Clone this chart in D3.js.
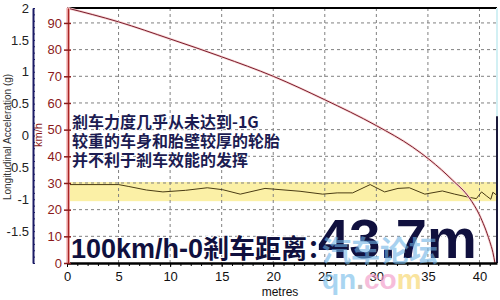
<!DOCTYPE html>
<html>
<head>
<meta charset="utf-8">
<script src="https://cdn.jsdelivr.net/npm/d3@7"></script>
<style>
  body { margin: 0; background: #fff; }
  svg { display: block; font-family: "Liberation Sans", Arial, "Noto Sans CJK SC", sans-serif; }
</style>
</head>
<body>
<div id="chart"></div>
<script>
// distance ticks (metres)
const distTicks = [0, 5, 10, 15, 20, 25, 30, 35, 40];
const speedTicks = [0, 10, 20, 30, 40, 50, 60, 70, 80, 90];
const accelTicks = [2, 1.5, 1, 0.5, 0, -0.5, -1, -1.5];

// speed curve (km/h vs metres)
const speedDist = [0, 5, 10, 15, 20, 25, 30, 33.5, 35.2, 37.4, 39, 40, 41, 41.3, 41.5];
const speedVal  = [95.6, 90.4, 84, 77.3, 70, 61.2, 51.5, 43.5, 38.6, 31, 24.5, 18, 8, 4, 0];

// longitudinal acceleration (g)
const accelDist = [0, 5, 6, 7.7, 9.3, 11.5, 13.6, 15.1, 16.8, 19.2, 22.6, 24.8, 26.2, 27.7, 29.4, 30.8, 32.1, 33.2, 34.7, 36.4, 37.6, 39, 39.7, 40.2, 40.7, 41.1, 41.3, 41.7];
const accelVal  = [-0.77, -0.77, -0.8, -0.855, -0.885, -0.86, -0.82, -0.85, -0.92, -0.83, -0.875, -0.92, -0.9, -0.9, -0.77, -0.885, -0.83, -0.82, -0.92, -0.87, -0.92, -0.97, -0.99, -0.885, -0.95, -1.0, -0.89, -0.94];

// highlighted acceleration band
const bandRange = [-0.73, -1.03];

const notes = ["剎车力度几乎从未达到-1G", "较重的车身和胎壁较厚的轮胎", "并不利于剎车效能的发挥"];

const W = 500, H = 300;
const svg = d3.select('#chart').append('svg')
  .attr('width', W)
  .attr('height', H);

const x = d3.scaleLinear().domain([0, 41.7]).range([67, 497]);
const ySpeed = d3.scaleLinear().domain([0, 95.6]).range([263, 8]);
const yAcc = d3.scaleLinear().domain([-2, 2]).range([263, 8]);

// yellow band
svg.append('rect')
  .attr('x', x(0))
  .attr('y', yAcc(bandRange[0]))
  .attr('width', x(41.7) - x(0))
  .attr('height', yAcc(bandRange[1]) - yAcc(bandRange[0]))
  .attr('fill', '#fbf0a6');

// dashed grid
svg.append('g').selectAll('line')
  .data(speedTicks.filter(d => d > 0))
  .enter().append('line')
  .attr('x1', x(0)).attr('x2', x(41.7))
  .attr('y1', d => ySpeed(d)).attr('y2', d => ySpeed(d))
  .attr('stroke', '#808080')
  .attr('stroke-dasharray', '3,3');

svg.append('g').selectAll('line')
  .data(distTicks.filter(d => d > 0))
  .enter().append('line')
  .attr('x1', d => x(d)).attr('x2', d => x(d))
  .attr('y1', ySpeed.range()[1]).attr('y2', ySpeed.range()[0])
  .attr('stroke', '#808080')
  .attr('stroke-dasharray', '3,3');

// top border + right border
svg.append('line')
  .attr('x1', x(0)).attr('x2', x(41.7))
  .attr('y1', 8).attr('y2', 8)
  .attr('stroke', '#000').attr('stroke-width', 2);
svg.append('line')
  .attr('x1', x(41.7)).attr('x2', x(41.7))
  .attr('y1', 8).attr('y2', ySpeed(55))
  .attr('stroke', '#d2f0f4').attr('stroke-width', 2);
svg.append('line')
  .attr('x1', x(41.7)).attr('x2', x(41.7))
  .attr('y1', ySpeed(55)).attr('y2', 263)
  .attr('stroke', '#1a1a3a').attr('stroke-width', 2);

// acceleration line
const accLine = d3.line()
  .x((d, i) => x(accelDist[i]))
  .y(d => yAcc(d));
svg.append('path')
  .datum(accelVal)
  .attr('d', accLine)
  .attr('fill', 'none')
  .attr('stroke', '#4a3c14')
  .attr('stroke-width', 1);

// speed curve
const spLine = d3.line()
  .x((d, i) => x(speedDist[i]))
  .y(d => ySpeed(d))
  .curve(d3.curveMonotoneX);
svg.append('path')
  .datum(speedVal)
  .attr('d', spLine)
  .attr('fill', 'none')
  .attr('stroke', '#f8d4d4')
  .attr('stroke-width', 2.5);
svg.append('path')
  .datum(speedVal)
  .attr('d', spLine)
  .attr('fill', 'none')
  .attr('stroke', '#7a1c2c')
  .attr('stroke-width', 1);

// x axis
const xMinor = svg.append('g')
  .attr('transform', 'translate(0,263)')
  .call(d3.axisBottom(x).tickValues(d3.range(0, 42, 1)).tickSize(3).tickFormat(''));
xMinor.select('.domain').remove();
xMinor.selectAll('line').attr('stroke', '#000');

const xAxis = svg.append('g')
  .attr('transform', 'translate(0,263)')
  .call(d3.axisBottom(x).tickValues(distTicks).tickSize(4).tickPadding(5).tickSizeOuter(0));
xAxis.select('.domain').attr('stroke', '#000').attr('stroke-width', 2.5);
xAxis.selectAll('text').attr('font-size', 13).attr('fill', '#111')
  .attr('font-family', '"Liberation Sans", Arial, sans-serif');

svg.append('text')
  .attr('x', 280).attr('y', 296)
  .attr('text-anchor', 'middle')
  .attr('font-size', 12)
  .attr('fill', '#111')
  .text('metres');

// speed axis
svg.append('line')
  .attr('x1', x(0) + 1).attr('x2', x(0) + 1)
  .attr('y1', 8).attr('y2', 263)
  .attr('stroke', '#f9c6c6').attr('stroke-width', 4);
const sAxis = svg.append('g')
  .attr('transform', `translate(${x(0) + 1},0)`)
  .call(d3.axisLeft(ySpeed).tickValues(speedTicks).tickSize(4).tickPadding(2).tickSizeOuter(0));
sAxis.select('.domain').attr('stroke', '#a82424').attr('stroke-width', 1.5);
sAxis.selectAll('.tick line').attr('x2', 3).attr('x1', -4).attr('stroke', '#8b1a1a').attr('stroke-width', 1.5);
sAxis.selectAll('text').attr('font-size', 13).attr('fill', '#8b1a1a')
  .attr('font-family', '"Liberation Sans", Arial, sans-serif');

svg.append('text')
  .attr('transform', 'translate(42,135) rotate(-90)')
  .attr('text-anchor', 'middle')
  .attr('font-size', 11)
  .attr('fill', '#8b1a1a')
  .text('km/h');

// acceleration axis
const aMinor = svg.append('g')
  .attr('transform', 'translate(33,0)')
  .call(d3.axisRight(yAcc).tickValues(d3.range(-20, 21, 1).map(d => d / 10)).tickSize(2).tickFormat(''));
aMinor.select('.domain').remove();
aMinor.selectAll('line').attr('stroke', '#1c1c66');

const aAxis = svg.append('g')
  .attr('transform', 'translate(33,0)')
  .call(d3.axisLeft(yAcc).tickValues(accelTicks).tickSize(0).tickPadding(4).tickFormat(d => d).tickSizeOuter(0));
aAxis.select('.domain').attr('stroke', '#1c1c66').attr('stroke-width', 2);
aAxis.selectAll('text').attr('font-size', 13).attr('fill', '#222')
  .attr('font-family', '"Liberation Sans", Arial, sans-serif');

svg.append('text')
  .attr('transform', 'translate(11,137) rotate(-90)')
  .attr('text-anchor', 'middle')
  .attr('font-size', 10)
  .attr('fill', '#333')
  .text('Longitudinal Acceleration (g)');

// annotation text
svg.append('g').selectAll('text')
  .data(notes)
  .enter().append('text')
  .attr('x', 72)
  .attr('y', (d, i) => 128 + i * 19)
  .attr('font-size', 16)
  .attr('font-weight', 'bold')
  .attr('font-family', '"Noto Sans CJK SC", sans-serif')
  .attr('fill', '#1c1c52')
  .attr('stroke', '#fff')
  .attr('stroke-width', 2)
  .attr('paint-order', 'stroke')
  .text(d => d);

// big braking distance text
const big = svg.append('text')
  .attr('x', 71).attr('y', 258)
  .attr('font-weight', 'bold')
  .attr('fill', '#10103e')
  .attr('stroke', '#fff')
  .attr('stroke-width', 2)
  .attr('paint-order', 'stroke');
big.append('tspan')
  .attr('font-size', 27)
  .attr('font-family', '"Liberation Sans", "Noto Sans CJK SC", sans-serif')
  .text('100km/h-0');
big.append('tspan')
  .attr('font-size', 26)
  .attr('font-family', '"Noto Sans CJK SC", sans-serif')
  .text('剎车距离：');
big.append('tspan')
  .attr('x', 318)
  .attr('font-size', 56)
  .attr('font-family', '"Liberation Sans", Arial, sans-serif')
  .text('43.7m');

// watermark
svg.append('text')
  .attr('x', 322).attr('y', 262)
  .attr('font-size', 29)
  .attr('font-weight', 'bold')
  .attr('font-family', '"Noto Sans CJK SC", sans-serif')
  .attr('fill', '#6fb4e6')
  .attr('opacity', 0.6)
  .text('汽车论坛');
const wm = svg.append('text')
  .attr('x', 322).attr('y', 289)
  .attr('font-size', 28)
  .attr('font-weight', 'bold')
  .attr('font-family', '"Liberation Sans", Arial, sans-serif')
  .attr('opacity', 0.65);
wm.append('tspan').attr('fill', '#7cc0ea').text('qn');
wm.append('tspan').attr('fill', '#9a9a9a').text('.');
wm.append('tspan').attr('fill', '#f29ac8').text('co');
wm.append('tspan').attr('fill', '#f7d66c').text('m');
</script>
</body>
</html>
